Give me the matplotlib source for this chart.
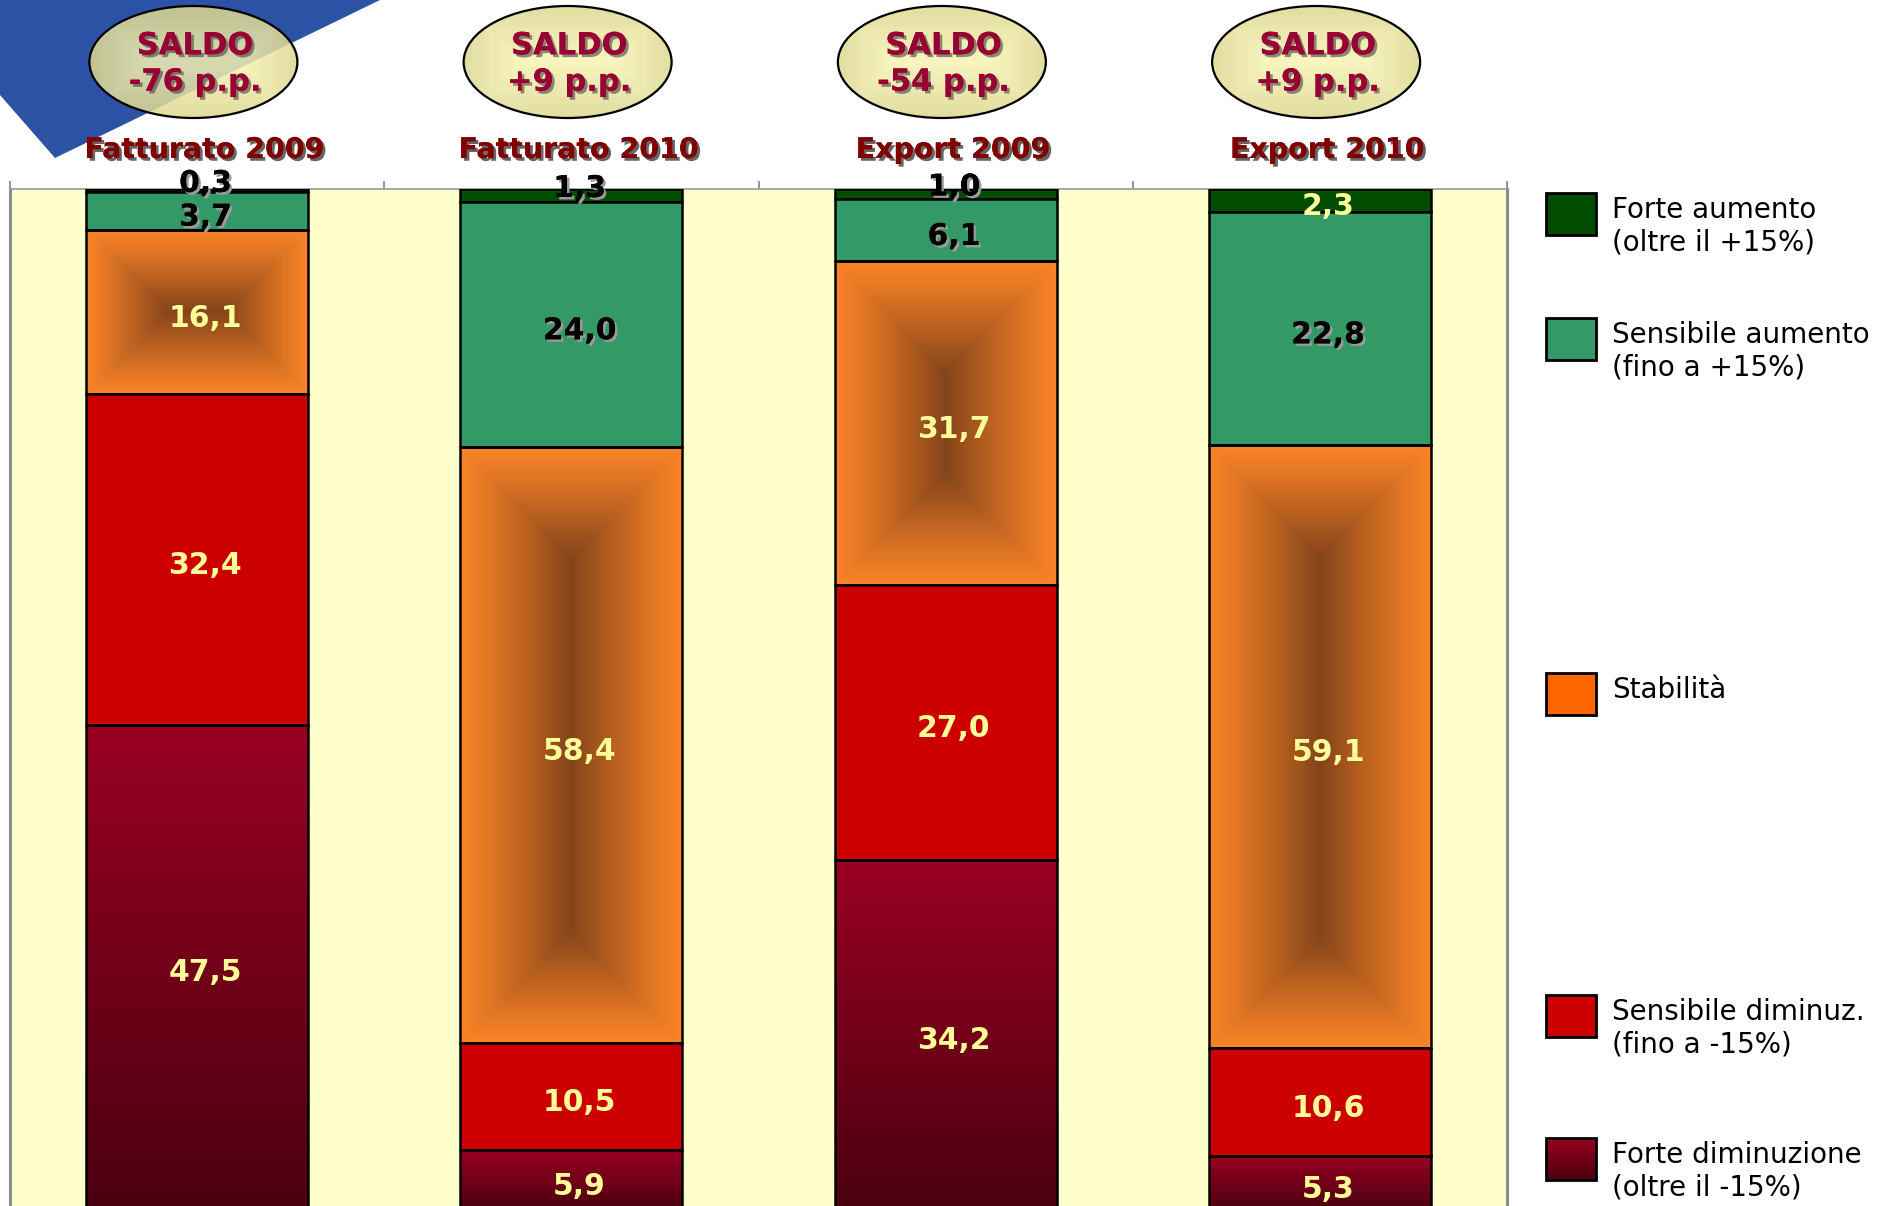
import numpy as np
import matplotlib
matplotlib.use('Agg')
import matplotlib.pyplot as plt
from matplotlib.patches import Ellipse, Polygon, Rectangle
from matplotlib import transforms as mtransforms
import matplotlib.patheffects as pe
from matplotlib.colors import to_rgb

# ---------------- data ----------------
categories = ['Fatturato 2009', 'Fatturato 2010', 'Export 2009', 'Export 2010']
saldo = ['-76 p.p.', '+9 p.p.', '-54 p.p.', '+9 p.p.']
series_names = ['Forte aumento\n(oltre il +15%)',
                'Sensibile aumento\n(fino a +15%)',
                'Stabilità',
                'Sensibile diminuz.\n(fino a -15%)',
                'Forte diminuzione\n(oltre il -15%)']
forte_aumento = [0.3, 1.3, 1.0, 2.3]
sensibile_aumento = [3.7, 24.0, 6.1, 22.8]
stabilita = [16.1, 58.4, 31.7, 59.1]
sensibile_diminuz = [32.4, 10.5, 27.0, 10.6]
forte_diminuzione = [47.5, 5.9, 34.2, 5.3]

series = [forte_aumento, sensibile_aumento, stabilita, sensibile_diminuz, forte_diminuzione]
colors = ['#004C00', '#339966', '#FF6600', '#CC0000', '#800020']
YEL = '#FFFF99'
label_colors = [['black', 'black', 'black', YEL],
                ['black'] * 4,
                [YEL] * 4,
                [YEL] * 4,
                [YEL] * 4]

# ---------------- figure ----------------
W, H = 1877, 1206
fig = plt.figure(figsize=(W / 100, H / 100), dpi=100)
fig.patch.set_facecolor('white')

bg = fig.add_axes([0, 0, 1, 1], zorder=0)
bg.set_xlim(0, W)
bg.set_ylim(H, 0)
bg.axis('off')
bg.add_patch(Polygon([(0, 0), (380, 0), (55, 158), (0, 95)], closed=True,
                     facecolor='#2B52A5', edgecolor='none', zorder=0))

ax_left, ax_top, ax_w, ax_h = 10, 189, 1497, 1020
ax = fig.add_axes([ax_left / W, (H - ax_top - ax_h) / H, ax_w / W, ax_h / H], zorder=1)
ax.set_facecolor('#FFFFCC')
x = np.arange(len(categories))
ax.set_xlim(-0.5, len(categories) - 0.5)
ax.set_ylim(100, 0)

bar_w = 0.593
edge_c = np.array(to_rgb('#F98327'))
cent_c = np.array(to_rgb('#84441A'))
top_c = np.array(to_rgb('#9A0022'))
bot_c = np.array(to_rgb('#4A000F'))


def rect_gradient(wpx, hpx, nx, ny, levels=36):
    xs = (np.arange(nx) + 0.5) * wpx / nx
    ys = (np.arange(ny) + 0.5) * hpx / ny
    dx = np.minimum(xs, wpx - xs)[None, :]
    dy = np.minimum(ys, hpx - ys)[:, None]
    d = np.minimum(dx, dy)
    t = d / (min(wpx, hpx) / 2)
    t = np.floor(t * levels) / levels
    return np.clip(t, 0, 1)


bottom = np.zeros(len(categories))
for si, vals in enumerate(series):
    vals = np.array(vals)
    gradient = si in (2, 4)
    bars = ax.bar(x, vals, width=bar_w, bottom=bottom,
                  color=colors[si] if not gradient else 'none',
                  edgecolor='black', linewidth=1.8, zorder=3)
    if gradient:
        for rect in bars:
            x0, y0 = rect.get_x(), rect.get_y()
            w, h = rect.get_width(), rect.get_height()
            p0 = ax.transData.transform((x0, y0))
            p1 = ax.transData.transform((x0 + w, y0 + h))
            wpx, hpx = abs(p1[0] - p0[0]), abs(p1[1] - p0[1])
            nx, ny = max(int(wpx), 2), max(int(hpx), 2)
            if si == 2:
                t = rect_gradient(wpx, hpx, nx, ny) ** 1.15
                img = edge_c[None, None, :] * (1 - t[..., None]) + cent_c[None, None, :] * t[..., None]
            else:
                t = np.linspace(0, 1, ny)[:, None, None] * np.ones((1, nx, 1))
                img = top_c[None, None, :] * (1 - t) + bot_c[None, None, :] * t
            ax.imshow(img, extent=(x0, x0 + w, y0 + h, y0), origin='upper',
                      aspect='auto', zorder=2, interpolation='nearest')
    # labels
    for i, (v, b) in enumerate(zip(vals, bottom)):
        yc = b + v / 2 + 0.6
        if v < 1.5:
            yc -= 1.3
        col = label_colors[si][i]
        effects = [pe.withSimplePatchShadow(offset=(1.8, -1.8), shadow_rgbFace='#9A9A9A', alpha=1.0),
                   pe.Normal()] if col == 'black' else None
        ax.text(x[i] + 0.022, yc, f'{v:.1f}'.replace('.', ','), ha='center', va='center',
                fontsize=21.5, fontweight='bold', color=col, zorder=6, clip_on=False,
                path_effects=effects)
    bottom = bottom + vals

ax.set_xlim(-0.5, len(categories) - 0.5)
ax.set_ylim(100, 0)

# axes styling
ax.xaxis.tick_top()
ax.set_xticks(np.arange(len(categories) + 1) - 0.5)
ax.set_xticklabels([])
ax.set_yticks([])
ax.tick_params(axis='x', direction='out', length=6, width=1.2, color='#808080')
for s in ['left', 'right']:
    ax.spines[s].set_color('#8C8C8C')
    ax.spines[s].set_linewidth(2.2)
ax.spines['top'].set_color('#9A9A9A')
ax.spines['top'].set_linewidth(1.2)
ax.spines['bottom'].set_visible(False)

blend = mtransforms.blended_transform_factory(ax.transData, fig.transFigure)

# category titles
for i, cat in enumerate(categories):
    ax.text(x[i] + 0.02, 1 - 150 / H, cat, transform=blend, ha='center', va='center',
            fontsize=20.5, fontweight='bold', color='#800000', clip_on=False, zorder=6,
            path_effects=[pe.withSimplePatchShadow(offset=(2, -2), shadow_rgbFace='#404040', alpha=0.8),
                          pe.Normal()])

# saldo ellipses (drawn in pixel space of the overlay, centred on the bars)
ell_wpx, ell_hpx, ell_cy = 208, 112, 62
e_out = np.array(to_rgb('#DDD78E'))
e_in = np.array(to_rgb('#F8F4B6'))
for i, s in enumerate(saldo):
    cx_data = x[i] - 0.01
    cxp = ax.transData.transform((cx_data, 0))[0]
    ell = Ellipse((cxp, ell_cy), ell_wpx, ell_hpx, facecolor='none', edgecolor='black',
                  linewidth=1.6, zorder=3)
    t = rect_gradient(ell_wpx, ell_hpx, ell_wpx, ell_hpx, levels=20)
    rgba = np.ones((ell_hpx, ell_wpx, 4))
    rgba[..., :3] = e_out[None, None, :] * (1 - t[..., None]) + e_in[None, None, :] * t[..., None]
    rgba[..., 3] = 0.85
    clip_ell = Ellipse((cxp, ell_cy), ell_wpx, ell_hpx, facecolor='none', edgecolor='none',
                       transform=bg.transData)
    im = bg.imshow(rgba, extent=(cxp - ell_wpx / 2, cxp + ell_wpx / 2, ell_cy + ell_hpx / 2, ell_cy - ell_hpx / 2),
                   origin='upper', aspect='auto', zorder=2, interpolation='bilinear')
    im.set_clip_path(clip_ell)
    bg.add_patch(ell)
    ax.text(cx_data + 0.004, 1 - 64 / H, 'SALDO\n' + s, transform=blend, ha='center', va='center',
            fontsize=22, fontweight='bold', color='#990033', linespacing=1.32,
            clip_on=False, zorder=6,
            path_effects=[pe.withSimplePatchShadow(offset=(2, -2), shadow_rgbFace='#333333', alpha=0.55),
                          pe.Normal()])

# legend (manual, as in the original)
leg_centers = [214, 339, 694, 1016, 1159]
for si, name in enumerate(series_names):
    c = leg_centers[si]
    if si == 4:
        t = np.linspace(0, 1, 42)[:, None, None] * np.ones((1, 50, 1))
        img = top_c[None, None, :] * (1 - t) + bot_c[None, None, :] * t
        bg.imshow(img, extent=(1546, 1596, c + 21, c - 21), origin='upper', aspect='auto', zorder=1)
        fc = 'none'
    else:
        fc = colors[si]
    bg.add_patch(Rectangle((1546, c - 21), 50, 42, facecolor=fc, edgecolor='black',
                           linewidth=2, zorder=2))
    dy = 12 if '\n' in name else -4
    bg.text(1612, c + dy, name, ha='left', va='center', fontsize=20, color='black',
            linespacing=1.2, zorder=3)
bg.set_xlim(0, W)
bg.set_ylim(H, 0)

fig.savefig('out.png', dpi=100, facecolor='white')
